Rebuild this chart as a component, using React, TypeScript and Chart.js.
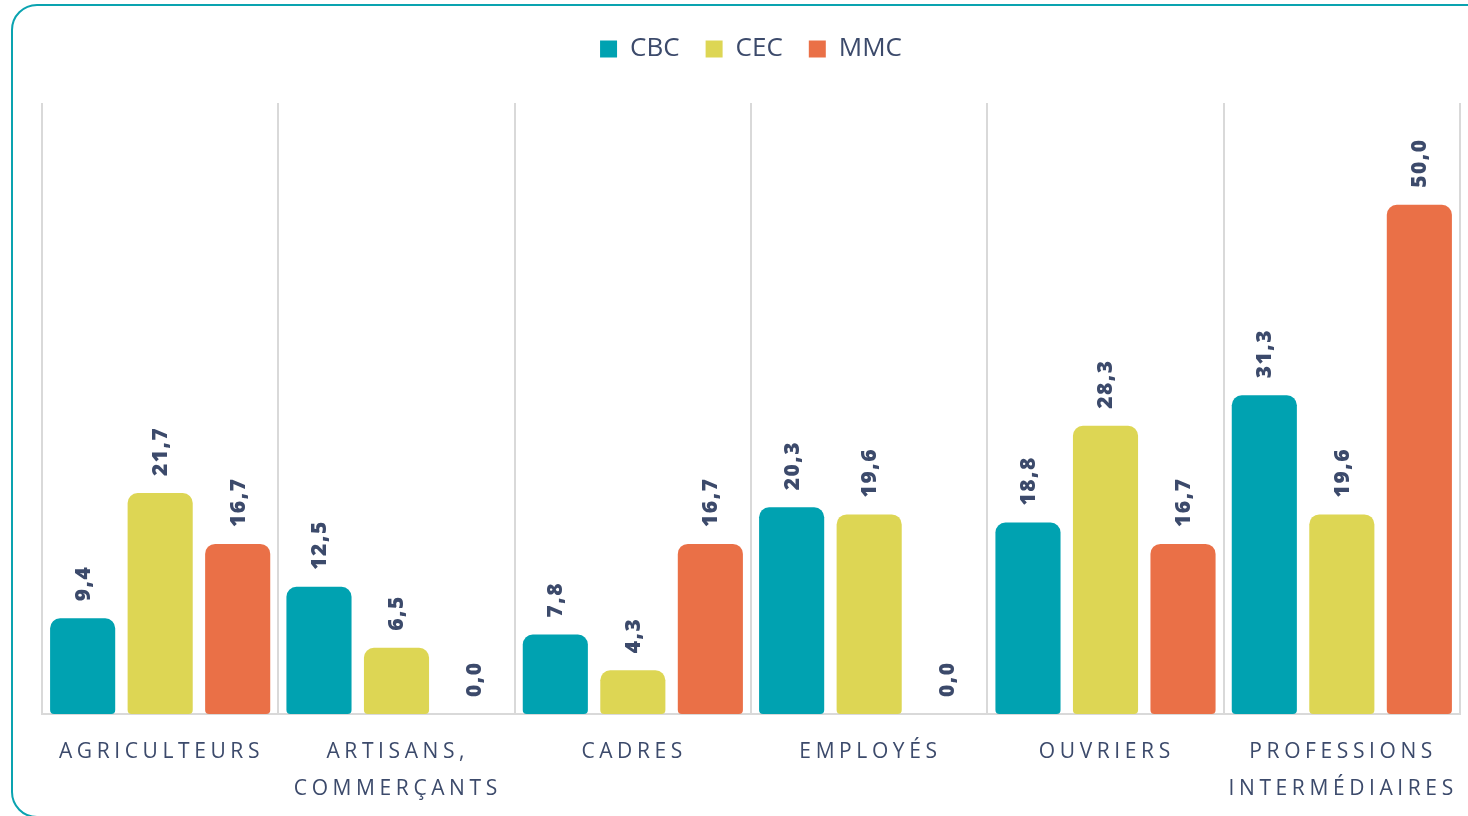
import React, { useEffect, useRef } from "react";
import { Chart, registerables } from "chart.js";

Chart.register(...registerables);

const categories: string[][] = [
  ["AGRICULTEURS"],
  ["ARTISANS,", "COMMERÇANTS"],
  ["CADRES"],
  ["EMPLOYÉS"],
  ["OUVRIERS"],
  ["PROFESSIONS", "INTERMÉDIAIRES"],
];
const seriesNames = ["CBC", "CEC", "MMC"];
const cbcValues = [9.4, 12.5, 7.8, 20.3, 18.8, 31.3];
const cecValues = [21.7, 6.5, 4.3, 19.6, 28.3, 19.6];
const mmcValues = [16.7, 0.0, 16.7, 0.0, 16.7, 50.0];
const seriesColors = ["#00A2B1", "#DDD654", "#EA7047"];

const FONT = "'Open Sans', 'Noto Sans', sans-serif";
const TEXT = "#3C4A6B";
const X_SPACING = 4.6;

const valueLabelPlugin = {
  id: "valueLabels",
  afterDatasetsDraw(chart: any) {
    const ctx = chart.ctx;
    ctx.save();
    ctx.fillStyle = TEXT;
    ctx.font = `800 21px ${FONT}`;
    ctx.textAlign = "left";
    ctx.textBaseline = "middle";
    chart.data.datasets.forEach((ds: any, di: number) => {
      const meta = chart.getDatasetMeta(di);
      meta.data.forEach((el: any, i: number) => {
        const v = ds.data[i] as number;
        const label = v.toFixed(1).replace(".", ",");
        ctx.save();
        ctx.translate(el.x + 1, el.y - 17);
        ctx.rotate(-Math.PI / 2);
        (ctx as any).letterSpacing = "1.5px";
        ctx.fillText(label, 0, 0);
        ctx.restore();
      });
    });
    ctx.restore();
  },
};

const xLabelPlugin = {
  id: "xLabels",
  afterDraw(chart: any) {
    const ctx = chart.ctx;
    const xs = chart.scales.x;
    const bottom = chart.chartArea.bottom;
    ctx.save();
    ctx.fillStyle = TEXT;
    ctx.font = `21px ${FONT}`;
    (ctx as any).letterSpacing = `${X_SPACING}px`;
    ctx.textAlign = "center";
    ctx.textBaseline = "middle";
    categories.forEach((lines, i) => {
      const x = xs.getPixelForValue(i);
      lines.forEach((line, li) => {
        ctx.fillText(line, x + X_SPACING / 2 - 1, bottom + 38 + li * 37);
      });
    });
    ctx.restore();
  },
};

export default function App() {
  const ref = useRef<HTMLCanvasElement | null>(null);
  useEffect(() => {
    if (!ref.current) return;
    const values = [cbcValues, cecValues, mmcValues];
    const chart = new Chart(ref.current, {
      type: "bar",
      data: {
        labels: categories.map((c) => c.join(" ")),
        datasets: seriesNames.map((name, k) => ({
          label: name,
          data: values[k],
          backgroundColor: seriesColors[k],
          borderWidth: 0,
          borderSkipped: false,
          borderRadius: { topLeft: 10, topRight: 10, bottomLeft: 4, bottomRight: 4 },
          categoryPercentage: 0.984,
          barPercentage: 0.84,
        })),
      },
      options: {
        animation: false,
        responsive: false,
        maintainAspectRatio: false,
        layout: { padding: { left: 42, right: 8, top: 10, bottom: 102 } },
        plugins: {
          legend: {
            display: true,
            position: "top",
            labels: {
              boxWidth: 17,
              boxHeight: 17,
              padding: 26,
              color: TEXT,
              font: { size: 26, family: FONT },
            },
          },
          subtitle: {
            display: true,
            text: "",
            weight: 500,
            position: "top",
            font: { size: 10 },
            padding: { top: 0, bottom: 19 },
          },
          tooltip: { enabled: false },
        },
        scales: {
          x: {
            offset: true,
            grid: { display: true, color: "#D9D9D9", lineWidth: 2, drawTicks: false, offset: true },
            border: { display: true, color: "#D9D9D9", width: 2 },
            ticks: { display: false },
          },
          y: {
            display: false,
            min: 0,
            max: 60,
          },
        },
      },
      plugins: [valueLabelPlugin, xLabelPlugin],
    });
    return () => chart.destroy();
  }, []);

  return (
    <div style={{ position: "fixed", inset: 0, background: "#fff", overflow: "hidden" }}>
      <div
        style={{
          position: "absolute",
          left: 11,
          top: 4,
          width: 1490,
          height: 814,
          border: "2px solid #0AA3B0",
          borderRadius: 26,
          boxSizing: "border-box",
        }}
      />
      <canvas
        ref={ref}
        width={1468}
        height={816}
        style={{ position: "absolute", left: 0, top: 0, width: 1468, height: 816 }}
      />
    </div>
  );
}
